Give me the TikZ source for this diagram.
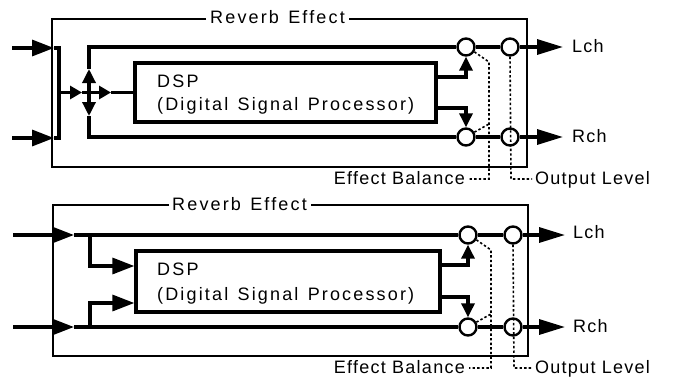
\documentclass[tikz,border=0pt]{standalone}
\usepackage{fontspec}
\setmainfont{Liberation Sans}[LetterSpace=7]
\newfontfamily\widefont{Liberation Sans}[LetterSpace=12,WordSpace=1.3]
\usetikzlibrary{arrows.meta}
\begin{document}
\begin{tikzpicture}[x=1pt,y=-1pt,
  sig/.style={line width=3.3pt},
  frame/.style={line width=1.7pt},
  bigtip/.style={-{Triangle[length=22pt,width=16pt]}},
  outtip/.style={-{Triangle[length=26pt,width=15pt]}},
  midtip/.style={-{Triangle[length=12pt,width=13pt]}},
  smalltip/.style={-{Triangle[length=14pt,width=13pt]}},
  knob/.style={circle,draw,line width=2.4pt,fill=white,minimum size=17pt,inner sep=0pt},
  ctl/.style={line width=1.6pt,dash pattern=on 2.4pt off 2.2pt},
  lbl/.style={font=\fontsize{18}{20}\selectfont,inner sep=0pt},
  wlbl/.style={font=\fontsize{18}{20}\selectfont\widefont,inner sep=0pt},
  dspbox/.style={draw,line width=3.3pt,inner sep=0pt},
]
\useasboundingbox (0,0) rectangle (684,388);

% ================= TOP DIAGRAM =================
\node[wlbl,anchor=base west] (title1) at (210,23) {Reverb Effect};
\draw[frame] ([xshift=-4pt]title1.west |- 0,19) -- (52,19) -- (52,167) -- (527,167) -- (527,19) -- ([xshift=4pt]title1.east |- 0,19);

\node[dspbox,minimum width=301pt,minimum height=59pt] (dsp1) at (285.5,92.5) {};
\node[wlbl,anchor=base west] (dspa1) at (157,87) {DSP};
\node[wlbl,anchor=base west] (dspb1) at (157,110) {(Digital Signal Processor)};

\node[knob] (eL1) at (466,47) {};
\node[knob] (oL1) at (510,47) {};
\node[knob] (eR1) at (466,137) {};
\node[knob] (oR1) at (510,137) {};

\coordinate (inL1) at (12,48);
\coordinate (inR1) at (12,138);
\coordinate (aL1) at (54,48);
\coordinate (aR1) at (54,138);
\coordinate (busT1) at (59,48);
\coordinate (busB1) at (59,138);
\coordinate (busM1) at (59,92.5);
\coordinate (m11) at (82,92.5);
\coordinate (m21) at (111,92.5);
\coordinate (vM1) at (89,92.5);
\coordinate (vU1) at (89,69);
\coordinate (vD1) at (89,116);
\coordinate (vT1) at (89,47);
\coordinate (vB1) at (89,137);

\draw[sig,bigtip] (inL1) -- (aL1);
\draw[sig] (aL1) -- (busT1);
\draw[sig,bigtip] (inR1) -- (aR1);
\draw[sig] (aR1) -- (busB1);
\draw[sig,line cap=rect] (busT1) -- (busB1);
\draw[sig,midtip] (busM1) -- (m11);
\draw[sig,midtip] (m11) -- (m21);
\draw[sig] (m21) -- (dsp1.west);
\draw[sig,smalltip] (vM1) -- (vU1);
\draw[sig,smalltip] (vM1) -- (vD1);
\draw[sig] (vU1) -- (vT1) -- (eL1);
\draw[sig] (vD1) -- (vB1) -- (eR1);
\draw[sig] (eL1) -- (oL1);
\draw[sig] (eR1) -- (oR1);
\draw[sig,smalltip] (dsp1.east |- 0,77) -| (eL1.south);
\draw[sig,smalltip] (dsp1.east |- 0,108) -| (eR1.north);

\node[lbl,anchor=base west] (lch1) at (572,52) {Lch};
\node[lbl,anchor=base west] (rch1) at (572,142) {Rch};
\coordinate (tL1) at (563,47);
\coordinate (tR1) at (563,137);
\draw[sig,outtip] (oL1) -- (tL1);
\draw[sig,outtip] (oR1) -- (tR1);

\node[lbl,anchor=base east] (eb1) at (465,184) {Effect Balance};
\node[lbl,anchor=base west] (ol1) at (535,184) {Output Level};
\draw[ctl] (eL1.-30) -- (489,62) -- (489,179) -- ([xshift=4pt]eb1.east |- 0,179);
\draw[ctl] (eR1.30) -- (489,124);
\draw[ctl] (oL1.south) -- (511,179) -- ([xshift=-3pt]ol1.west |- 0,179);

% ================= BOTTOM DIAGRAM =================
\node[wlbl,anchor=base west] (title2) at (172,210) {Reverb Effect};
\draw[frame] ([xshift=-3pt]title2.west |- 0,205) -- (53,205) -- (53,356) -- (528,356) -- (528,205) -- ([xshift=4pt]title2.east |- 0,205);

\node[dspbox,minimum width=304pt,minimum height=61pt] (dsp2) at (288,281.5) {};
\node[wlbl,anchor=base west] (dspa2) at (157,275) {DSP};
\node[wlbl,anchor=base west] (dspb2) at (157,300) {(Digital Signal Processor)};

\node[knob] (eL2) at (468,235) {};
\node[knob] (oL2) at (513,235) {};
\node[knob] (eR2) at (468,327) {};
\node[knob] (oR2) at (513,327) {};

\coordinate (inL2) at (13,235);
\coordinate (inR2) at (13,327);
\coordinate (aL2) at (74,235);
\coordinate (aR2) at (74,327);
\coordinate (jL2) at (90,235);
\coordinate (jR2) at (90,327);
\coordinate (kL2) at (90,266);
\coordinate (kR2) at (90,303);

\draw[sig,bigtip] (inL2) -- (aL2);
\draw[sig] (aL2) -- (eL2);
\draw[sig,bigtip] (inR2) -- (aR2);
\draw[sig] (aR2) -- (eR2);
\draw[sig,bigtip] (jL2) -- (kL2) -- (dsp2.west |- kL2);
\draw[sig,bigtip] (jR2) -- (kR2) -- (dsp2.west |- kR2);
\draw[sig] (eL2) -- (oL2);
\draw[sig] (eR2) -- (oR2);
\draw[sig,smalltip] (dsp2.east |- 0,265) -| (eL2.south);
\draw[sig,smalltip] (dsp2.east |- 0,297) -| (eR2.north);

\node[lbl,anchor=base west] (lch2) at (573,238) {Lch};
\node[lbl,anchor=base west] (rch2) at (573,332) {Rch};
\coordinate (tL2) at (565,235);
\coordinate (tR2) at (565,327);
\draw[sig,outtip] (oL2) -- (tL2);
\draw[sig,outtip] (oR2) -- (tR2);

\node[lbl,anchor=base east] (eb2) at (465,373) {Effect Balance};
\node[lbl,anchor=base west] (ol2) at (535,373) {Output Level};
\draw[ctl] (eL2.-30) -- (491,250) -- (491,368) -- ([xshift=4pt]eb2.east |- 0,368);
\draw[ctl] (eR2.30) -- (491,314);
\draw[ctl] (oL2.south) -- (514,368) -- ([xshift=-3pt]ol2.west |- 0,368);
\end{tikzpicture}
\end{document}
